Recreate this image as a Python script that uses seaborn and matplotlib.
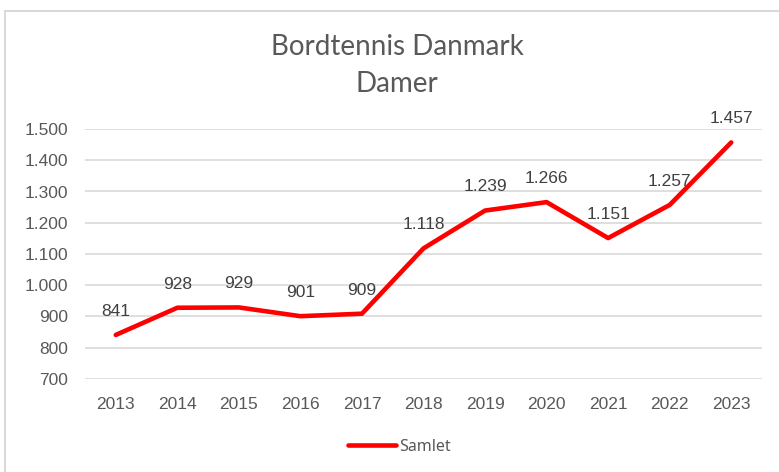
import matplotlib
matplotlib.use("Agg")
import matplotlib.pyplot as plt
import seaborn as sns
import pandas as pd
from matplotlib.patches import Rectangle

years = ["2013", "2014", "2015", "2016", "2017", "2018", "2019", "2020", "2021", "2022", "2023"]
samlet = [841, 928, 929, 901, 909, 1118, 1239, 1266, 1151, 1257, 1457]
yticks = [700, 800, 900, 1000, 1100, 1200, 1300, 1400, 1500]
title_lines = ["Bordtennis Danmark", "Damer"]
series_name = "Samlet"

def dk(v):
    return f"{v:,}".replace(",", ".")

sns.set_theme(style="white")
plt.rcParams['font.family'] = ['Liberation Sans', 'DejaVu Sans']

df = pd.DataFrame({"year": years, "value": samlet})

W, H = 779, 472
fig = plt.figure(figsize=(W / 100, H / 100), dpi=100)
ax = fig.add_axes([85 / W, 1 - 379 / H, (762 - 85) / W, (379 - 129) / H])

sns.lineplot(data=df, x="year", y="value", ax=ax, color="#FF0000", linewidth=3.3,
             sort=False, label=series_name, legend=False, solid_capstyle="round")

ax.set_xlim(-0.5, len(years) - 0.5)
ax.set_ylim(700, 1500)
ax.set_yticks(yticks)
ax.set_yticklabels([dk(v) for v in yticks])
ax.yaxis.grid(True, color="#D9D9D9", linewidth=1.2)
ax.set_axisbelow(True)
for s in ax.spines.values():
    s.set_visible(False)
ax.tick_params(axis="both", length=0, labelsize=12.5, colors="#595959")
ax.tick_params(axis="y", pad=12)
ax.tick_params(axis="x", pad=13)
ax.set_xlabel("")
ax.set_ylabel("")

for i, v in enumerate(samlet):
    ax.annotate(dk(v), (i, v), xytext=(0, 17), textcoords="offset points",
                ha="center", va="center", fontsize=12.5, color="#404040")

for txt, ypx in zip(title_lines, [47, 84]):
    fig.text(397 / W, 1 - ypx / H, txt, ha="center", va="center",
             fontsize=20, color="#595959", family=["Lato", "DejaVu Sans"], fontweight="normal")

handles, labels = ax.get_legend_handles_labels()
leg = fig.legend(handles, labels, loc="center", bbox_to_anchor=(399 / W, 1 - 447 / H),
                 frameon=False, handlelength=3.0, handletextpad=0.2,
                 prop={"family": ["Noto Sans", "DejaVu Sans"], "size": 11.5})
for t in leg.get_texts():
    t.set_color("#595959")

fig.patches.append(Rectangle((5 / W, -0.05), 1.1, 1 - 11 / H + 0.05, transform=fig.transFigure,
                             fill=False, edgecolor="#D9D9D9", linewidth=1.5, zorder=0))

fig.savefig("out.png", dpi=100, facecolor="white")
